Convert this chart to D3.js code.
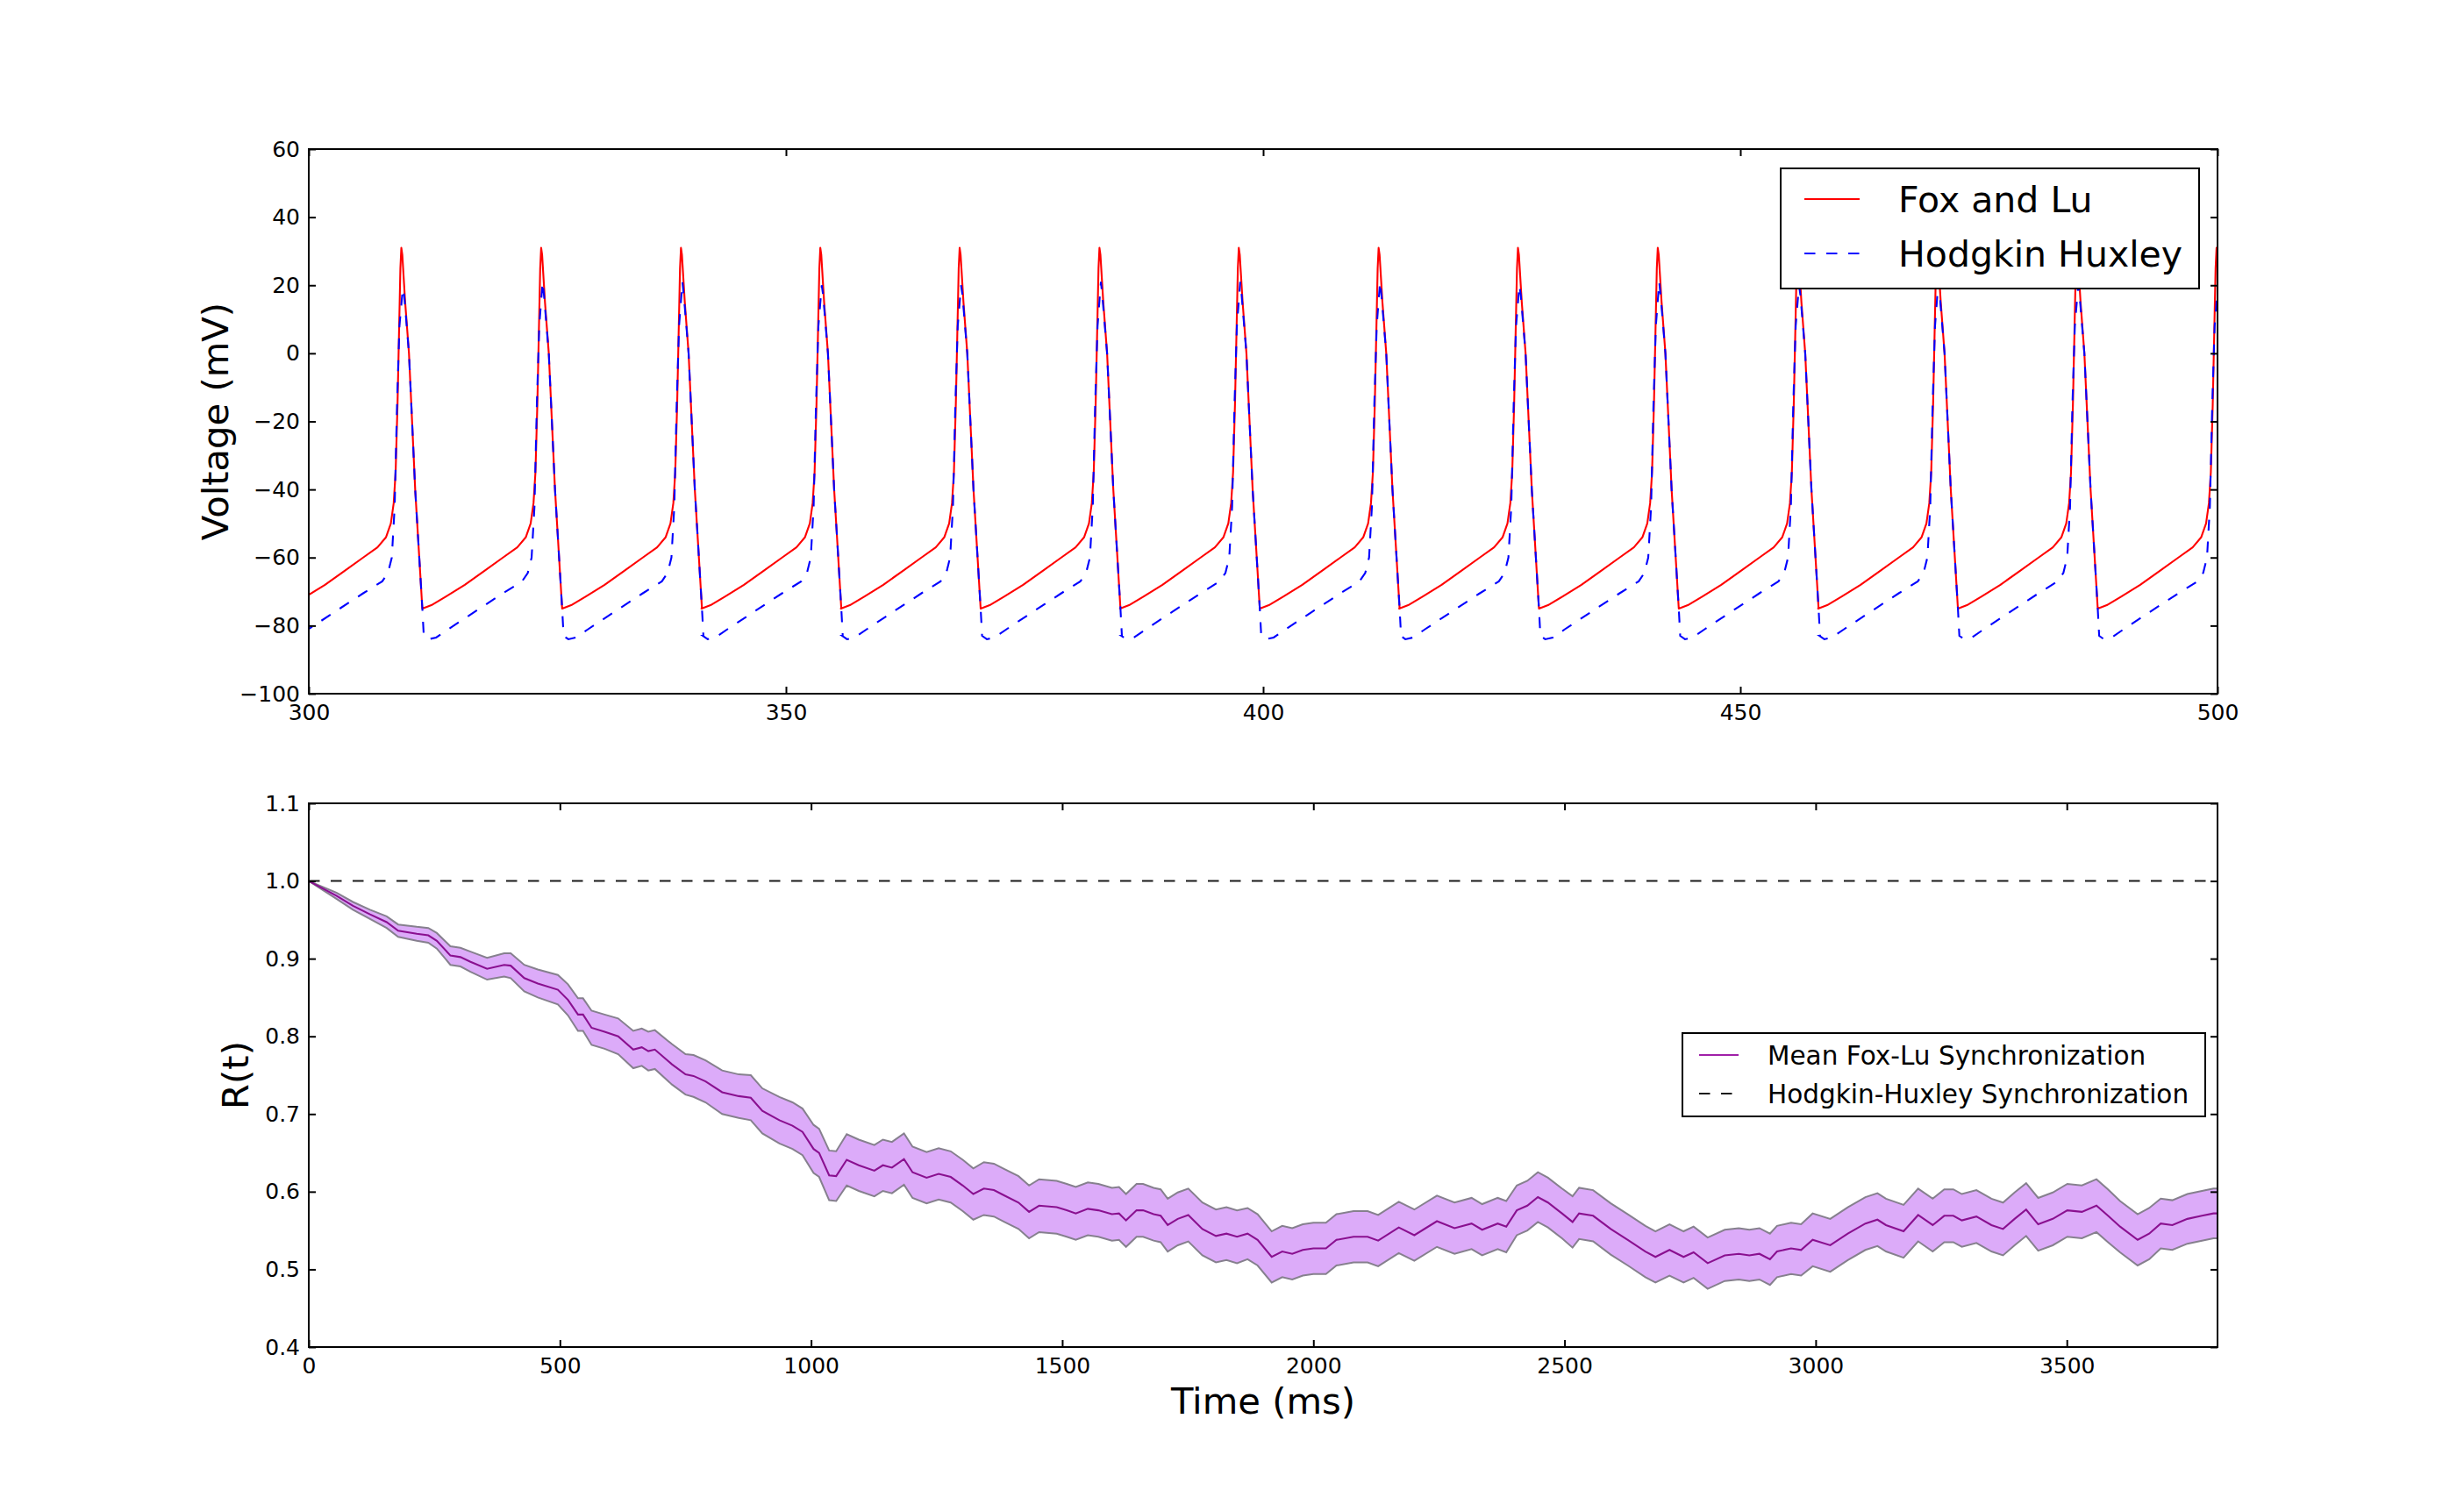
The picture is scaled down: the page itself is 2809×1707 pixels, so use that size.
<!DOCTYPE html>
<html>
<head>
<meta charset="utf-8">
<script src="https://cdn.jsdelivr.net/npm/d3@7.9.0/dist/d3.min.js"></script>
<style>
  body { margin: 0; background: #fff; }
  text { font-family: "DejaVu Sans", sans-serif; fill: #000; }
</style>
</head>
<body>
<div id="chart"></div>
<script>
// ---- top panel: spike trains (peak times, one waveform per spike)
const spikePeaks = [309.7, 324.35, 339.0, 353.6, 368.2, 382.85, 397.45, 412.1, 426.7, 441.35, 456.0, 470.6, 485.25, 499.9];
const hhPeaks = [19, 21, 21, 20, 20, 21, 21, 21, 20, 21, 20, 21, 20, 20];

// Fox and Lu waveform, time relative to its peak (ms) and voltage (mV)
const flShapeDt = [-12.45, -11.5, -10, -8, -6, -4, -2.5, -1.6, -1.1, -0.8, -0.6, -0.4, -0.25, -0.1, 0, 0.1, 0.4, 0.8, 1.45, 2.2];
const flShapeMv = [-75, -74, -71.5, -68, -64, -60, -57, -54, -50, -44, -35, -15, 5, 25, 31, 29, 15, 0, -40, -75];
// Hodgkin Huxley waveform, same time origin
const hhShapeDt = [-12.3, -11.8, -11, -9.7, -7, -4, -2, -1.4, -1.0, -0.7, -0.45, -0.2, 0.15, 0.3, 0.8, 1.45, 2.2, 2.35];
const hhShapeMv = [-83, -84, -83.5, -81, -76, -70.5, -67, -64.5, -60, -45, -15, 8, 20, 17, 0, -40, -75, -83];

const voltTicks = [-100, -80, -60, -40, -20, 0, 20, 40, 60];
const topTimeTicks = [300, 350, 400, 450, 500];

// ---- bottom panel: synchronization R(t)
const syncTime = [
  0, 55, 88, 122, 155, 178, 215, 238, 255, 282,
  302, 322, 355, 389, 402, 429, 456, 496, 516, 536,
  546, 563, 589, 616, 646, 663, 676, 689, 723, 750,
  766, 790, 823, 856, 880, 903, 937, 963, 983, 1005,
  1016, 1036, 1050, 1071, 1095, 1126, 1143, 1161, 1185, 1202,
  1230, 1254, 1278, 1302, 1323, 1344, 1364, 1385, 1413, 1434,
  1454, 1489, 1509, 1527, 1551, 1572, 1599, 1613, 1627, 1648,
  1661, 1682, 1696, 1710, 1730, 1751, 1779, 1806, 1827, 1848,
  1869, 1889, 1917, 1938, 1958, 1979, 2000, 2025, 2046, 2080,
  2108, 2129, 2170, 2201, 2246, 2281, 2315, 2336, 2367, 2384,
  2405, 2426, 2447, 2467, 2495, 2516, 2529, 2557, 2592, 2626,
  2661, 2681, 2709, 2737, 2757, 2785, 2819, 2847, 2868, 2888,
  2909, 2923, 2951, 2971, 2994, 3029, 3064, 3099, 3123, 3140,
  3175, 3204, 3233, 3256, 3274, 3291, 3320, 3350, 3373, 3396,
  3419, 3443, 3472, 3501, 3530, 3559, 3582, 3606, 3641, 3664,
  3687, 3710, 3740, 3769, 3792, 3800
];
const syncMean = [
  1.000, 0.981, 0.968, 0.957, 0.947, 0.936, 0.932, 0.930, 0.923, 0.904,
  0.902, 0.896, 0.887, 0.892, 0.891, 0.875, 0.868, 0.860, 0.847, 0.828,
  0.828, 0.811, 0.806, 0.800, 0.783, 0.786, 0.781, 0.783, 0.764, 0.751,
  0.749, 0.742, 0.728, 0.723, 0.721, 0.704, 0.692, 0.685, 0.677, 0.655,
  0.650, 0.621, 0.620, 0.641, 0.634, 0.627, 0.634, 0.631, 0.642, 0.625,
  0.618, 0.623, 0.619, 0.608, 0.597, 0.604, 0.602, 0.595, 0.586, 0.574,
  0.582, 0.580, 0.576, 0.572, 0.578, 0.576, 0.571, 0.572, 0.563, 0.576,
  0.576, 0.571, 0.569, 0.557, 0.565, 0.570, 0.552, 0.543, 0.546, 0.542,
  0.546, 0.538, 0.516, 0.523, 0.520, 0.525, 0.527, 0.527, 0.538, 0.542,
  0.542, 0.537, 0.554, 0.544, 0.562, 0.553, 0.559, 0.551, 0.559, 0.555,
  0.576, 0.582, 0.593, 0.586, 0.572, 0.561, 0.572, 0.569, 0.552, 0.538,
  0.523, 0.516, 0.525, 0.516, 0.522, 0.508, 0.518, 0.520, 0.518, 0.520,
  0.513, 0.523, 0.527, 0.525, 0.538, 0.531, 0.546, 0.559, 0.564, 0.557,
  0.549, 0.570, 0.557, 0.569, 0.569, 0.563, 0.568, 0.557, 0.552, 0.565,
  0.577, 0.558, 0.565, 0.576, 0.574, 0.582, 0.569, 0.555, 0.538, 0.546,
  0.559, 0.557, 0.565, 0.569, 0.572, 0.572
];
// half width of the shaded band around the mean
const syncSpread = [
  0, 0.004, 0.005, 0.006, 0.0075, 0.008, 0.009, 0.0095, 0.010, 0.012,
  0.012, 0.013, 0.014, 0.015, 0.016, 0.017, 0.018, 0.019, 0.020, 0.021,
  0.021, 0.022, 0.022, 0.023, 0.024, 0.024, 0.025, 0.025, 0.026, 0.026,
  0.027, 0.027, 0.028, 0.028, 0.029, 0.029, 0.030, 0.030, 0.030, 0.031,
  0.031, 0.032, 0.032, 0.033, 0.033, 0.033, 0.033, 0.033, 0.033, 0.033,
  0.033, 0.033, 0.033, 0.033, 0.033, 0.034, 0.034, 0.034, 0.034, 0.034,
  0.034, 0.034, 0.034, 0.034, 0.034, 0.034, 0.034, 0.034, 0.034, 0.034,
  0.034, 0.034, 0.034, 0.034, 0.034, 0.034, 0.034, 0.034, 0.034, 0.034,
  0.033, 0.033, 0.033, 0.033, 0.033, 0.033, 0.033, 0.033, 0.033, 0.033,
  0.033, 0.033, 0.033, 0.033, 0.033, 0.033, 0.033, 0.033, 0.033, 0.033,
  0.032, 0.032, 0.032, 0.032, 0.032, 0.033, 0.033, 0.033, 0.033, 0.033,
  0.033, 0.033, 0.033, 0.033, 0.033, 0.033, 0.033, 0.033, 0.033, 0.033,
  0.033, 0.033, 0.033, 0.033, 0.034, 0.034, 0.034, 0.034, 0.034, 0.034,
  0.034, 0.034, 0.034, 0.034, 0.034, 0.034, 0.034, 0.034, 0.034, 0.034,
  0.034, 0.034, 0.034, 0.034, 0.034, 0.034, 0.034, 0.033, 0.033, 0.033,
  0.032, 0.032, 0.032, 0.032, 0.032, 0.032
];
const hhSync = 1.0;
const syncTicks = [0.4, 0.5, 0.6, 0.7, 0.8, 0.9, 1.0, 1.1];
const bottomTimeTicks = [0, 500, 1000, 1500, 2000, 2500, 3000, 3500];

// ---- layout
const W = 2809, H = 1707;
const LEFT = 352, RIGHT = 2528;
const TOP1 = 170, BOT1 = 791;
const TOP2 = 916, BOT2 = 1536;
const TICK = 8, LW = 2.1, DASH = "12.5,12.5";

const svg = d3.select("#chart").append("svg")
  .attr("width", W).attr("height", H);
svg.append("rect").attr("width", W).attr("height", H).attr("fill", "#fff");

function drawFrame(x, y, xTicks, yTicks, xFmt, yFmt) {
  const [x0, x1] = x.range();
  const [y0, y1] = y.range();
  const g = svg.append("g");
  g.append("g").attr("transform", `translate(0,${y0})`)
    .call(d3.axisBottom(x).tickValues(xTicks).tickSizeInner(-TICK).tickSizeOuter(0).tickPadding(12).tickFormat(xFmt));
  g.append("g").attr("transform", `translate(0,${y1})`)
    .call(d3.axisTop(x).tickValues(xTicks).tickSizeInner(-TICK).tickSizeOuter(0).tickFormat(""));
  g.append("g").attr("transform", `translate(${x0},0)`)
    .call(d3.axisLeft(y).tickValues(yTicks).tickSizeInner(-TICK).tickSizeOuter(0).tickPadding(10).tickFormat(yFmt));
  g.append("g").attr("transform", `translate(${x1},0)`)
    .call(d3.axisRight(y).tickValues(yTicks).tickSizeInner(-TICK).tickSizeOuter(0).tickFormat(""));
  g.selectAll(".domain").remove();
  g.selectAll(".tick line").attr("stroke", "#000").attr("stroke-width", 2);
  g.selectAll(".tick text").attr("font-size", 25).attr("font-family", "DejaVu Sans").attr("fill", "#000");
  g.append("rect")
    .attr("x", x0).attr("y", y1)
    .attr("width", x1 - x0).attr("height", y0 - y1)
    .attr("fill", "none").attr("stroke", "#000").attr("stroke-width", 2);
}

function clip(id, x, y) {
  const [x0, x1] = x.range();
  const [y0, y1] = y.range();
  svg.append("clipPath").attr("id", id).append("rect")
    .attr("x", x0).attr("y", y1).attr("width", x1 - x0).attr("height", y0 - y1);
  return `url(#${id})`;
}

// ================= top panel =================
const xTop = d3.scaleLinear().domain([300, 500]).range([LEFT, RIGHT]);
const yTop = d3.scaleLinear().domain([-100, 60]).range([BOT1, TOP1]);

const flPoints = spikePeaks.flatMap(p => flShapeDt.map((dt, j) => [p + dt, flShapeMv[j]]));
const hhPoints = spikePeaks.flatMap((p, i) => hhShapeDt.map((dt, j) => [p + dt, dt === 0.15 ? hhPeaks[i] : hhShapeMv[j]]));

const vLine = d3.line().x(d => xTop(d[0])).y(d => yTop(d[1]));
const topClip = clip("clipTop", xTop, yTop);

svg.append("path").datum(flPoints)
  .attr("clip-path", topClip)
  .attr("d", vLine).attr("fill", "none")
  .attr("stroke", "#ff0000").attr("stroke-width", LW).attr("stroke-linejoin", "round");

svg.append("path").datum(hhPoints)
  .attr("clip-path", topClip)
  .attr("d", vLine).attr("fill", "none")
  .attr("stroke", "#0000ff").attr("stroke-width", LW)
  .attr("stroke-dasharray", DASH);

drawFrame(xTop, yTop, topTimeTicks, voltTicks, d3.format("d"), d3.format("d"));

svg.append("text")
  .attr("transform", `translate(260,${(TOP1 + BOT1) / 2}) rotate(-90)`)
  .attr("text-anchor", "middle").attr("font-size", 41.7)
  .text("Voltage (mV)");

// legend top
const legTop = svg.append("g");
legTop.append("rect")
  .attr("x", 2030).attr("y", 192).attr("width", 477).attr("height", 137)
  .attr("fill", "#fff").attr("stroke", "#000").attr("stroke-width", 2);
[
  { label: "Fox and Lu", color: "#ff0000", dash: null, y: 227 },
  { label: "Hodgkin Huxley", color: "#0000ff", dash: DASH, y: 289 }
].forEach(item => {
  legTop.append("line")
    .attr("x1", 2057).attr("x2", 2120).attr("y1", item.y).attr("y2", item.y)
    .attr("stroke", item.color).attr("stroke-width", LW)
    .attr("stroke-dasharray", item.dash);
  legTop.append("text")
    .attr("x", 2164).attr("y", item.y + 15)
    .attr("font-size", 41).text(item.label);
});

// ================= bottom panel =================
const xBot = d3.scaleLinear().domain([0, 3800]).range([LEFT, RIGHT]);
const yBot = d3.scaleLinear().domain([0.4, 1.1]).range([BOT2, TOP2]);

const syncRows = syncTime.map((t, i) => ({ t, mean: syncMean[i], lo: syncMean[i] - syncSpread[i], hi: syncMean[i] + syncSpread[i] }));
const botClip = clip("clipBot", xBot, yBot);

svg.append("path").datum(syncRows)
  .attr("clip-path", botClip)
  .attr("d", d3.area().x(d => xBot(d.t)).y0(d => yBot(d.lo)).y1(d => yBot(d.hi)))
  .attr("fill", "#dcabf9").attr("stroke", "none");

["lo", "hi"].forEach(k => {
  svg.append("path").datum(syncRows)
    .attr("clip-path", botClip)
    .attr("d", d3.line().x(d => xBot(d.t)).y(d => yBot(d[k])))
    .attr("fill", "none").attr("stroke", "#86808e").attr("stroke-width", 2);
});

svg.append("path").datum(syncRows)
  .attr("clip-path", botClip)
  .attr("d", d3.line().x(d => xBot(d.t)).y(d => yBot(d.mean)))
  .attr("fill", "none").attr("stroke", "#8a1090").attr("stroke-width", LW);

svg.append("line")
  .attr("x1", xBot(0)).attr("x2", xBot(3800))
  .attr("y1", yBot(hhSync)).attr("y2", yBot(hhSync))
  .attr("stroke", "#1a1a1a").attr("stroke-width", LW)
  .attr("stroke-dasharray", DASH);

drawFrame(xBot, yBot, bottomTimeTicks, syncTicks, d3.format("d"), d3.format(".1f"));

svg.append("text")
  .attr("transform", `translate(283,${(TOP2 + BOT2) / 2}) rotate(-90)`)
  .attr("text-anchor", "middle").attr("font-size", 41.7)
  .text("R(t)");

svg.append("text")
  .attr("x", (LEFT + RIGHT) / 2).attr("y", 1612)
  .attr("text-anchor", "middle").attr("font-size", 41.7)
  .text("Time (ms)");

// legend bottom
const legBot = svg.append("g");
legBot.append("rect")
  .attr("x", 1918).attr("y", 1178).attr("width", 596).attr("height", 95)
  .attr("fill", "#fff").attr("stroke", "#000").attr("stroke-width", 2);
[
  { label: "Mean Fox-Lu Synchronization", color: "#a020a8", dash: null, y: 1203 },
  { label: "Hodgkin-Huxley Synchronization", color: "#1a1a1a", dash: DASH, y: 1247 }
].forEach(item => {
  legBot.append("line")
    .attr("x1", 1937).attr("x2", 1982).attr("y1", item.y).attr("y2", item.y)
    .attr("stroke", item.color).attr("stroke-width", LW)
    .attr("stroke-dasharray", item.dash);
  legBot.append("text")
    .attr("x", 2015).attr("y", item.y + 10.5)
    .attr("font-size", 29.5).text(item.label);
});
</script>
</body>
</html>
